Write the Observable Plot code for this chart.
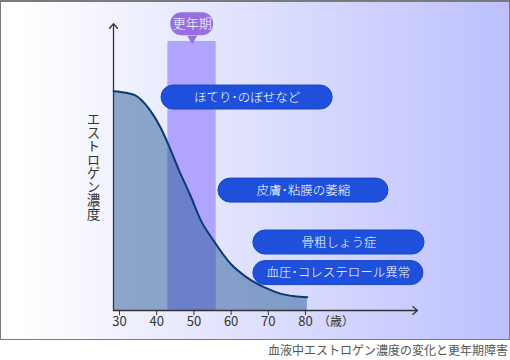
<!DOCTYPE html>
<html>
<head>
<meta charset="utf-8">
<script src="https://cdn.jsdelivr.net/npm/d3@7"></script>
<script src="https://cdn.jsdelivr.net/npm/@observablehq/plot@0.6"></script>
<style>
  html, body { margin: 0; padding: 0; background: #ffffff; }
  body { font-family: "Noto Sans CJK JP", sans-serif; }
  #wrap { position: relative; width: 510px; height: 360px; }
  #panel { position: absolute; left: 0; top: 0; width: 510px; height: 340px; box-sizing: border-box;
    border: 1px solid #7a7a7a; border-top-width: 2px;
    background: linear-gradient(to right, #ffffff 4%, #ecedfd 30%, #bcc0ff 100%); }
  #chart { position: absolute; left: 0; top: 0; }
  #caption { position: absolute; left: 0; top: 340px; width: 508px; height: 20px; line-height: 19px;
    text-align: right; font-size: 12px; color: #555; }
</style>
</head>
<body>
<div id="wrap">
  <div id="panel"></div>
  <div id="chart"></div>
  <div id="caption"></div>
</div>
<script>
// ---- data ----
const ages   = [28.4, 30, 34, 38, 41, 43, 46, 49, 52, 55, 60, 64, 69, 73, 77, 80.5];
const levels = [99.7, 99.4, 98, 91.5, 83.3, 76, 63.7, 52.5, 40.5, 32.5, 21, 15.3, 10.5, 7.8, 6.5, 6.0];
const xTicks = [30, 40, 50, 60, 70, 80];
const menopause = {start: 43, end: 56, label: "更年期"};
const symptoms = ["ほてり･のぼせなど", "皮膚･粘膜の萎縮", "骨粗しょう症", "血圧･コレステロール異常"];
const yLabel = "エストロゲン濃度";
const xUnit = "（歳）";
const caption = "血液中エストロゲン濃度の変化と更年期障害";

// ---- layout (annotation placement, in age / level units) ----
const axisStartX = 28.39, axisEndX = 110.1, axisEndY = 130.4;
const bandTop = 122.3;
const pillX1 = [41.3, 56.6, 66.0, 66.0];
const pillX2 = [87.3, 102.3, 112.0, 111.7];
const pillY  = [96.8, 54.5, 30.9, 17.0];
const pillHalf = 5.45;
const bubble = {x1: 43.8, x2: 55.3, y1: 124.9, y2: 135.3, tipY: 123.6};

const curve = ages.map((a, i) => ({age: a, level: levels[i]}));
const pills = symptoms.map((s, i) => ({text: s, x1: pillX1[i], x2: pillX2[i], y1: pillY[i] - pillHalf, y2: pillY[i] + pillHalf, xm: (pillX1[i] + pillX2[i]) / 2, ym: pillY[i]}));
const font = "'Noto Sans CJK JP', sans-serif";

const plot = Plot.plot({
  width: 510,
  height: 340,
  marginLeft: 113, marginRight: 93, marginTop: 23, marginBottom: 30,
  x: {domain: [30, 80], range: [119, 305]},
  y: {domain: [0, 100], range: [310, 90], axis: null},
  style: {background: "transparent", fontFamily: font, overflow: "visible"},
  marks: [
    Plot.rect([menopause], {x1: "start", x2: "end", y1: 0, y2: () => bandTop, fill: "#b0a4ff"}),
    Plot.areaY(curve, {x: "age", y: "level", curve: "monotone-x", fill: "rgb(40,90,150)", fillOpacity: 0.5}),
    Plot.line(curve, {x: "age", y: "level", curve: "monotone-x", stroke: "#0b3a70", strokeWidth: 2}),
    Plot.axisX({ticks: xTicks, tickSize: 5, tickPadding: 1, fontSize: 13, stroke: "#333", fill: "#333", label: null}),
    Plot.arrow([{x1: axisStartX, y1: 0, x2: axisEndX, y2: 0}], {x1: "x1", y1: "y1", x2: "x2", y2: "y2", stroke: "#333", strokeWidth: 1.3, headLength: 7, headAngle: 80}),
    Plot.arrow([{x1: axisStartX, y1: 0, x2: axisStartX, y2: axisEndY}], {x1: "x1", y1: "y1", x2: "x2", y2: "y2", stroke: "#333", strokeWidth: 1.3, headLength: 7, headAngle: 80}),
    Plot.text([xUnit], {x: 88.2, y: 0, dy: 12, fontSize: 12, fill: "#333"}),
    Plot.text([yLabel], {frameAnchor: "left", dx: -20, dy: -5, textAnchor: "middle", fontSize: 13.5, fill: "#333", className: "ylab"}),
    Plot.rect(pills, {x1: "x1", x2: "x2", y1: "y1", y2: "y2", rx: 12, fill: "#1e50dc", stroke: "#1a45c4", strokeWidth: 1}),
    Plot.text(pills, {x: "xm", y: "ym", text: "text", fill: "white", fontSize: 12.5, fontWeight: 300}),
    Plot.rect([bubble], {x1: "x1", x2: "x2", y1: "y1", y2: "y2", rx: 11, fill: "#986fe0"}),
    Plot.dot([bubble], {x: d => (d.x1 + d.x2) / 2, y: "tipY", symbol: "triangle", rotate: 180, r: 3.7, fill: "#986fe0"}),
    Plot.text([menopause], {x: d => (bubble.x1 + bubble.x2) / 2, y: d => (bubble.y1 + bubble.y2) / 2, text: "label", fill: "white", fontSize: 13, fontWeight: 300})
  ]
});
d3.select(plot).selectAll(".ylab text, text.ylab")
  .style("writing-mode", "vertical-rl")
  .attr("dy", null)
  .style("letter-spacing", "0px");
d3.select(plot).selectAll(".ylab").attr("dy", null);
document.getElementById("chart").appendChild(plot);
document.getElementById("caption").textContent = caption;
</script>
</body>
</html>
